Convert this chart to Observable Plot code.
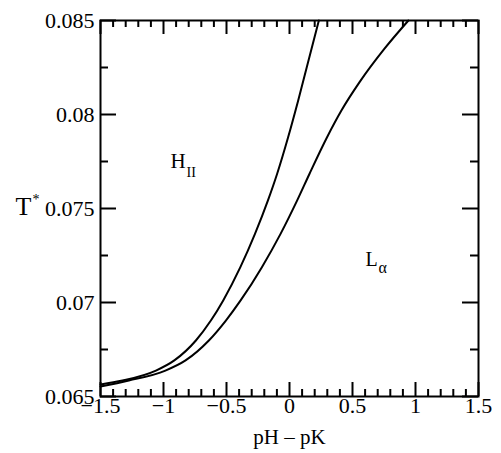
<!DOCTYPE html>
<html><head><meta charset="utf-8">
<script src="https://cdn.jsdelivr.net/npm/d3@7"></script>
<script src="https://cdn.jsdelivr.net/npm/@observablehq/plot@0.6"></script>
<style>body{margin:0;background:#fff} svg{display:block}</style>
</head><body><div id="chart"></div>
<script>
// H_II / L_alpha boundary curves
const curveA_x = [-1.5, -1.325, -1.06, -0.914, -0.743, -0.624, -0.526, -0.39, -0.274, -0.171, -0.098, -0.011, 0.069, 0.175, 0.233];
const curveA_y = [0.06564, 0.06585, 0.06638, 0.06692, 0.06798, 0.06904, 0.07011, 0.07188, 0.07365, 0.07543, 0.07685, 0.07879, 0.08075, 0.0835, 0.085];
const curveB_x = [-1.5, -1.275, -0.985, -0.825, -0.64, -0.505, -0.388, -0.219, -0.071, 0.061, 0.159, 0.298, 0.412, 0.556, 0.754, 0.944];
const curveB_y = [0.06553, 0.06585, 0.06638, 0.06692, 0.06798, 0.06904, 0.07011, 0.07188, 0.07365, 0.07543, 0.07685, 0.07879, 0.08021, 0.08172, 0.0835, 0.085];

const xMajor = [-1.5, -1, -0.5, 0, 0.5, 1, 1.5];
const xMinor = [-1.4,-1.3,-1.2,-1.1,-0.9,-0.8,-0.7,-0.6,-0.4,-0.3,-0.2,-0.1,0.1,0.2,0.3,0.4,0.6,0.7,0.8,0.9,1.1,1.2,1.3,1.4];
const yMajor = [0.065, 0.07, 0.075, 0.08, 0.085];
const yMinor = [0.0675, 0.0725, 0.0775, 0.0825];

const phaseLabels = ["H", "L"];
const phaseSubs = ["II", "α"];
const phaseX = [-0.944, 0.603];
const phaseY = [0.07713, 0.07192];

const xTitle = "pH – pK";
const yTitle = "T";
const yTitleSup = "*";
const yTitleAt = 0.07468;

const xDomain = [-1.5, 1.5];
const yDomain = [0.065, 0.085];

const fmtX = d => d === 0 ? "0" : (d < 0 ? "\u2212" + String(-d) : String(d));
const fmtY = d => String(+d.toFixed(4));

const A = curveA_x.map((x, i) => ({x, y: curveA_y[i]}));
const B = curveB_x.map((x, i) => ({x, y: curveB_y[i]}));
const HL = [{t: phaseLabels[0], s: phaseSubs[0], x: phaseX[0], y: phaseY[0]}];
const LL = [{t: phaseLabels[1], s: phaseSubs[1], x: phaseX[1], y: phaseY[1]}];

const W = 501, PH = 453, mL = 100, mR = 23, mT = 20, mB = 57;
// pixel -> data-unit conversion for tick lengths
const xPer = (xDomain[1] - xDomain[0]) / (W - mL - mR);
const yPer = (yDomain[1] - yDomain[0]) / (PH - mT - mB);

const font = "Liberation Serif";
const fs = 22;

function xTickMarks(vals, len) {
  return [
    Plot.ruleX(vals, {x: d => d, y1: yDomain[0], y2: yDomain[0] + len * yPer, stroke: "black", strokeWidth: 2}),
    Plot.ruleX(vals, {x: d => d, y1: yDomain[1], y2: yDomain[1] - len * yPer, stroke: "black", strokeWidth: 2})
  ];
}
function yTickMarks(vals, len) {
  return [
    Plot.ruleY(vals, {y: d => d, x1: xDomain[0], x2: xDomain[0] + len * xPer, stroke: "black", strokeWidth: 2}),
    Plot.ruleY(vals, {y: d => d, x1: xDomain[1], x2: xDomain[1] - len * xPer, stroke: "black", strokeWidth: 2})
  ];
}

const chart = Plot.plot({
  width: W, height: PH,
  marginLeft: mL, marginRight: mR, marginTop: mT, marginBottom: mB,
  x: {domain: xDomain, axis: null},
  y: {domain: yDomain, axis: null},
  marks: [
    Plot.frame({stroke: "black", fill: "none", strokeWidth: 2}),
    Plot.text(xMajor, {x: d => d, frameAnchor: "bottom", lineAnchor: "top", dy: 1, text: fmtX, fontSize: fs, fontFamily: font, fill: "black"}),
    Plot.text(yMajor, {y: d => d, frameAnchor: "left", textAnchor: "end", dx: -6, text: fmtY, fontSize: fs, fontFamily: font, fill: "black"}),
    Plot.line(A, {x: "x", y: "y", curve: "monotone-x", stroke: "black", strokeWidth: 2}),
    Plot.line(B, {x: "x", y: "y", curve: "monotone-x", stroke: "black", strokeWidth: 2}),
    Plot.text(HL, {x: "x", y: "y", text: "t", textAnchor: "start", lineAnchor: "bottom", fontSize: 21, fontFamily: font, fill: "black"}),
    Plot.text(HL, {x: "x", y: "y", text: "s", textAnchor: "start", lineAnchor: "bottom", fontSize: 14, fontFamily: font, fill: "black", dx: 16, dy: 9}),
    Plot.text(LL, {x: "x", y: "y", text: "t", textAnchor: "start", lineAnchor: "bottom", fontSize: 20, fontFamily: font, fill: "black"}),
    Plot.text(LL, {x: "x", y: "y", text: "s", textAnchor: "start", lineAnchor: "bottom", fontSize: 16, fontFamily: font, fill: "black", dx: 13, dy: 7}),
    Plot.text([xTitle], {frameAnchor: "bottom", text: d => d, lineAnchor: "bottom", dy: 47, fontSize: 21, fontFamily: font, fill: "black"}),
    Plot.text([yTitle], {frameAnchor: "left", y: () => yTitleAt, text: d => d, textAnchor: "start", lineAnchor: "bottom", dx: -85, fontSize: 26, fontFamily: font, fill: "black"}),
    Plot.text([yTitleSup], {frameAnchor: "left", y: () => yTitleAt, text: d => d, textAnchor: "start", lineAnchor: "bottom", dx: -68, dy: -11, fontSize: 14, fontFamily: font, fill: "black"}),
    // inward ticks on all four sides (drawn last)
    ...xTickMarks(xMajor, 14), ...xTickMarks(xMinor, 7),
    ...yTickMarks(yMajor, 16), ...yTickMarks(yMinor, 8)
  ]
});
document.getElementById("chart").append(chart);
</script>
</body></html>
